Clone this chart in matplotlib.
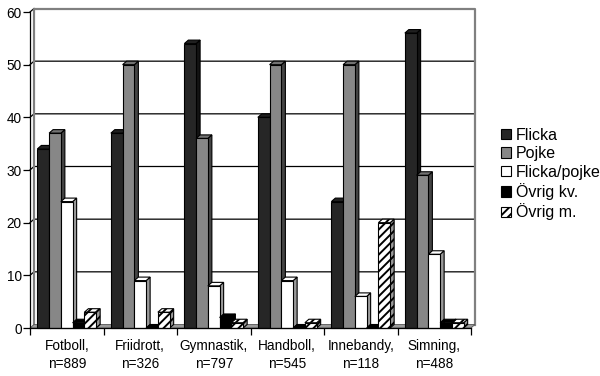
import matplotlib.pyplot as plt
from matplotlib.patches import Polygon, Patch
from matplotlib.colors import to_rgb
import numpy as np

plt.rcParams['font.family'] = ['Liberation Sans', 'DejaVu Sans']
plt.rcParams['hatch.linewidth'] = 1.4

categories = ['Fotboll,\nn=889', 'Friidrott,\nn=326', 'Gymnastik,\nn=797',
              'Handboll,\nn=545', 'Innebandy,\nn=118', 'Simning,\nn=488']
series = ['Flicka', 'Pojke', 'Flicka/pojke', 'Övrig kv.', 'Övrig m.']
flicka = [34, 37, 54, 40, 24, 56]
pojke = [37, 50, 36, 50, 50, 29]
flicka_pojke = [24, 9, 8, 9, 6, 14]
ovrig_kv = [1, 0, 2, 0, 0, 1]
ovrig_m = [3, 3, 1, 1, 20, 1]
values = [flicka, pojke, flicka_pojke, ovrig_kv, ovrig_m]
colors = ['#262626', '#878787', '#ffffff', '#000000', '#ffffff']
hatches = [None, None, None, None, '////']

fig = plt.figure(figsize=(6, 3.76), dpi=100)
ax = fig.add_axes([30 / 600, 48 / 376, 441 / 600, 316 / 376])
ax.set_xlim(-0.5, 5.5)
ax.set_ylim(0, 60)

# depth offset for the fake 3D look, in data units
dx = 4 / 441 * 6
dy = 3.5 / 316 * 60

def shade(c, f):
    r, g, b = to_rgb(c)
    return (r * f, g * f, b * f)

# back wall, floor and gridlines
for y in range(10, 60, 10):
    ax.plot([-0.5, -0.5 + dx, 5.5 + dx], [y, y + dy, y + dy], color='black', lw=0.9,
            clip_on=False, zorder=1)
ax.plot([-0.5, -0.5 + dx], [60, 60 + dy], color='black', lw=0.9, clip_on=False, zorder=1)
ax.plot([-0.5 + dx, -0.5 + dx, 5.5 + dx, 5.5 + dx], [dy, 60 + dy, 60 + dy, dy],
        color='#808080', lw=1.6, clip_on=False, zorder=1)
ax.add_patch(Polygon([(-0.5, 0), (5.5, 0), (5.5 + dx, dy), (-0.5 + dx, dy)],
                     closed=True, facecolor='#9a9a9a', edgecolor='#555555', lw=0.6,
                     clip_on=False, zorder=1.5))

x = np.arange(len(categories))
w = 0.16
z = 2
for i in range(len(categories)):
    for j, (name, vals) in enumerate(zip(series, values)):
        x0 = x[i] - 2.5 * w + j * w
        h = vals[i]
        c = colors[j]
        hatch = hatches[j]
        ax.bar(x0, h, width=w, align='edge', color=c, edgecolor='black', lw=0.8,
               hatch=hatch, zorder=z + 0.2, clip_on=False)
        side = Polygon([(x0 + w, 0), (x0 + w + dx, dy), (x0 + w + dx, h + dy), (x0 + w, h)],
                       closed=True, facecolor=shade(c, 0.5) if c != '#ffffff' else '#9a9a9a',
                       edgecolor='black', lw=0.8, hatch=hatch, zorder=z, clip_on=False)
        top = Polygon([(x0, h), (x0 + w, h), (x0 + w + dx, h + dy), (x0 + dx, h + dy)],
                      closed=True, facecolor=shade(c, 0.85) if c != '#ffffff' else '#ffffff',
                      edgecolor='black', lw=0.8, hatch=hatch, zorder=z + 0.1, clip_on=False)
        ax.add_patch(side)
        ax.add_patch(top)
        z += 1

for s in ['top', 'right']:
    ax.spines[s].set_visible(False)
ax.spines['left'].set_zorder(100)
ax.spines['bottom'].set_zorder(100)
ax.spines['left'].set_linewidth(0.9)
ax.spines['bottom'].set_linewidth(0.9)

ax.set_yticks(range(0, 61, 10))
ax.set_xticks(np.arange(-0.5, 6, 1))
ax.set_xticklabels([])
ax.set_xticks(x, minor=True)
ax.set_xticklabels(categories, minor=True, linespacing=1.35)
ax.tick_params(axis='x', which='minor', length=0, pad=8, labelsize=9.8)
ax.tick_params(axis='x', which='major', length=5, width=0.9)
ax.tick_params(axis='y', length=5, width=0.9, labelsize=9.8, pad=1)

handles = [Patch(facecolor=c, edgecolor='black', hatch=h, lw=0.8, label=s)
           for s, c, h in zip(series, colors, hatches)]
fig.legend(handles=handles, loc='center left', bbox_to_anchor=(501 / 600, 1 - 174 / 376),
           frameon=False, fontsize=11.5, handlelength=0.62, handleheight=0.62,
           handletextpad=0.33, labelspacing=0.22, borderpad=0, borderaxespad=0)

fig.savefig('out.png', dpi=100)
